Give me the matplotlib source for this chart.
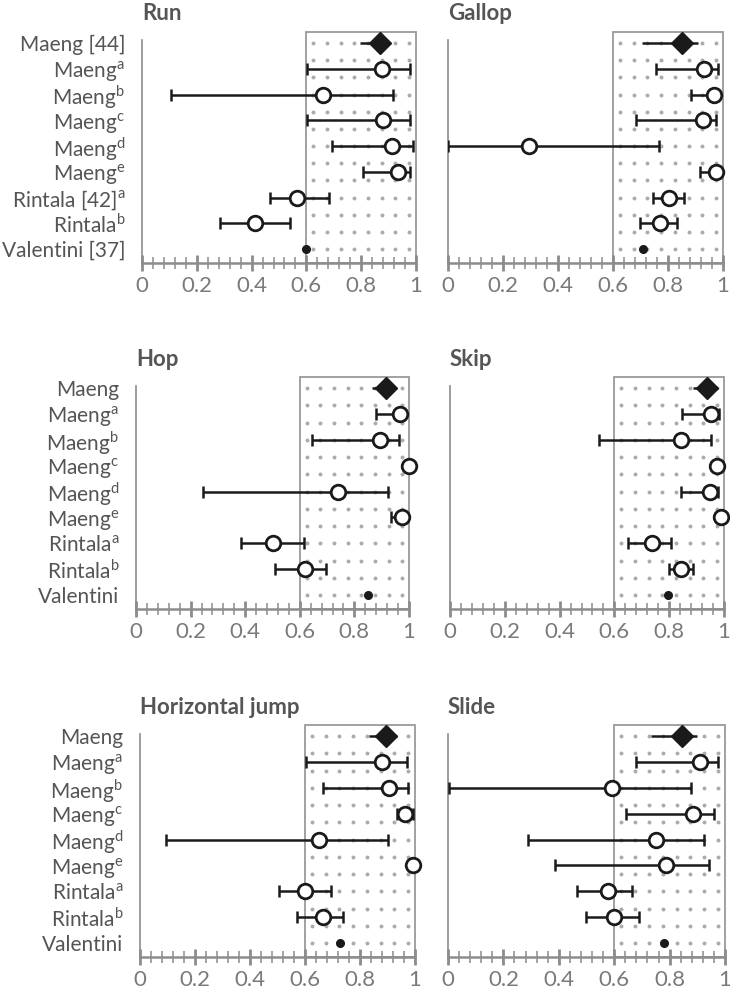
import numpy as np
import matplotlib
matplotlib.use("Agg")
import matplotlib.pyplot as plt
from matplotlib.patches import Rectangle
from matplotlib.ticker import MultipleLocator, FuncFormatter

plt.rcParams['font.family'] = ['Lato', 'DejaVu Sans']
plt.rcParams['mathtext.fontset'] = 'custom'
plt.rcParams['mathtext.rm'] = 'Lato'

# --- data ---
titles = ['Run', 'Gallop', 'Hop', 'Skip', 'Horizontal jump', 'Slide']

labels_run = ['Maeng [44]', r'Maeng$^\mathrm{a}$', r'Maeng$^\mathrm{b}$', r'Maeng$^\mathrm{c}$',
              r'Maeng$^\mathrm{d}$', r'Maeng$^\mathrm{e}$', r'Rintala [42]$^\mathrm{a}$',
              r'Rintala$^\mathrm{b}$', 'Valentini [37]']
labels_short = ['Maeng', r'Maeng$^\mathrm{a}$', r'Maeng$^\mathrm{b}$', r'Maeng$^\mathrm{c}$',
                r'Maeng$^\mathrm{d}$', r'Maeng$^\mathrm{e}$', r'Rintala$^\mathrm{a}$',
                r'Rintala$^\mathrm{b}$', 'Valentini']

# point estimate, lower, upper for rows 0..8 (None = no interval)
run_est = [0.869, 0.875, 0.660, 0.878, 0.911, 0.936, 0.567, 0.413, 0.597]
run_lo = [0.796, 0.601, 0.106, 0.601, 0.693, 0.808, 0.468, 0.283, None]
run_hi = [0.890, 0.978, 0.915, 0.978, 0.988, 0.978, 0.682, 0.541, None]

gallop_est = [0.851, 0.930, 0.968, 0.926, 0.294, 0.974, 0.802, 0.772, 0.708]
gallop_lo = [0.705, 0.755, 0.883, 0.684, 0.000, 0.917, 0.745, 0.699, None]
gallop_hi = [0.908, 0.981, 0.975, 0.973, 0.767, 0.980, 0.857, 0.832, None]

hop_est = [0.915, 0.968, 0.895, 1.000, 0.741, 0.976, 0.503, 0.620, 0.849]
hop_lo = [0.866, 0.878, 0.644, None, 0.245, 0.935, 0.384, 0.508, None]
hop_hi = [0.930, 0.975, 0.963, None, 0.923, 0.985, 0.616, 0.695, None]

skip_est = [0.937, 0.953, 0.843, 0.973, 0.949, 0.988, 0.738, 0.843, 0.796]
skip_lo = [0.888, 0.845, 0.544, None, 0.842, None, 0.648, 0.800, None]
skip_hi = [0.950, 0.982, 0.951, None, 0.977, None, 0.805, 0.886, None]

hj_est = [0.893, 0.879, 0.907, 0.964, 0.651, 0.992, 0.600, 0.664, 0.727]
hj_lo = [0.834, 0.604, 0.667, 0.933, 0.093, None, 0.507, 0.570, None]
hj_hi = [0.936, 0.972, 0.976, 0.992, 0.903, None, 0.693, 0.739, None]

slide_est = [0.845, 0.909, 0.592, 0.885, 0.750, 0.786, 0.577, 0.601, 0.780]
slide_lo = [0.732, 0.680, 0.004, 0.644, 0.290, 0.388, 0.465, 0.499, None]
slide_hi = [0.900, 0.975, 0.879, 0.962, 0.925, 0.942, 0.664, 0.690, None]

panels = [
    (titles[0], labels_run, run_est, run_lo, run_hi),
    (titles[1], None, gallop_est, gallop_lo, gallop_hi),
    (titles[2], labels_short, hop_est, hop_lo, hop_hi),
    (titles[3], None, skip_est, skip_lo, skip_hi),
    (titles[4], labels_short, hj_est, hj_lo, hj_hi),
    (titles[5], None, slide_est, slide_lo, slide_hi),
]

# axes placement in pixels: (x of 0, x of 1, top of box, axis line)
W, H = 730, 992
rects = [(142, 416, 32, 263), (448, 723, 32, 263),
         (136, 409, 377, 609), (450, 724, 377, 609),
         (140, 415, 725, 957), (448, 725, 725, 957)]

LABEL_C = '#555555'
TICK_C = '#7a7a7a'
AXIS_C = '#8c8c8c'
Y_TOP, Y_BOT = -0.43, 8.54

fig = plt.figure(figsize=(W / 100, H / 100), dpi=100)

for (title, labels, est, lo, hi), (x0, x1, yt, yb) in zip(panels, rects):
    ax = fig.add_axes([x0 / W, 1 - yb / H, (x1 - x0) / W, (yb - yt) / H])
    ax.set_xlim(0, 1)
    ax.set_ylim(Y_BOT, Y_TOP)

    # reference box with dot grid
    ax.add_patch(Rectangle((0.6, Y_TOP), 0.4, Y_BOT - Y_TOP, fill=False,
                           edgecolor='#9a9a9a', lw=1.3, clip_on=False, zorder=1))
    gx, gy = np.meshgrid(np.arange(0.625, 1.0, 0.05), np.arange(0, 8.01, 2 / 3))
    ax.scatter(gx.ravel(), gy.ravel(), s=8, color='#ababab', lw=0, zorder=1)

    for i in range(len(est)):
        if lo[i] is not None:
            cap = 0 if i == 0 else 4
            ax.errorbar(est[i], i, xerr=[[est[i] - lo[i]], [hi[i] - est[i]]], fmt='none',
                        ecolor='#1a1a1a', elinewidth=1.8, capsize=cap, capthick=1.8, zorder=3)
        if i == 0:
            ax.plot(est[i], i, marker='D', ms=11, color='#1a1a1a', zorder=4, clip_on=False)
        elif i == len(est) - 1:
            ax.plot(est[i], i, marker='o', ms=5.5, color='#1a1a1a', zorder=4, clip_on=False)
        else:
            ax.plot(est[i], i, marker='o', ms=10.5, mfc='white', mec='#1a1a1a', mew=2,
                    zorder=4, clip_on=False)

    for s in ['top', 'right']:
        ax.spines[s].set_visible(False)
    ax.spines['left'].set_color(AXIS_C)
    ax.spines['left'].set_linewidth(1.2)
    ax.spines['left'].set_bounds(Y_BOT, -0.1)
    ax.spines['bottom'].set_color(AXIS_C)
    ax.spines['bottom'].set_linewidth(1.8)

    ax.xaxis.set_major_locator(MultipleLocator(0.2))
    ax.xaxis.set_minor_locator(MultipleLocator(0.04))
    ax.xaxis.set_major_formatter(FuncFormatter(lambda v, p: f'{v:.1f}'.rstrip('0').rstrip('.') if v else '0'))
    ax.tick_params(axis='x', which='major', direction='inout', length=11, width=2,
                   color=AXIS_C, labelcolor=TICK_C, labelsize=16, pad=4)
    ax.tick_params(axis='x', which='minor', direction='inout', length=9, width=1.1, color=AXIS_C)

    ax.set_yticks(range(len(est)))
    if labels is not None:
        ax.set_yticklabels(labels)
        ax.tick_params(axis='y', length=0, labelsize=15, labelcolor=LABEL_C, pad=12)
    else:
        ax.set_yticklabels([])
        ax.tick_params(axis='y', length=0)

    ax.text(0.0, 1.0 + 18 / (yb - yt), title, transform=ax.transAxes, ha='left', va='center',
            fontsize=16, fontweight='bold', color=LABEL_C)

fig.savefig('out.png', dpi=100)
